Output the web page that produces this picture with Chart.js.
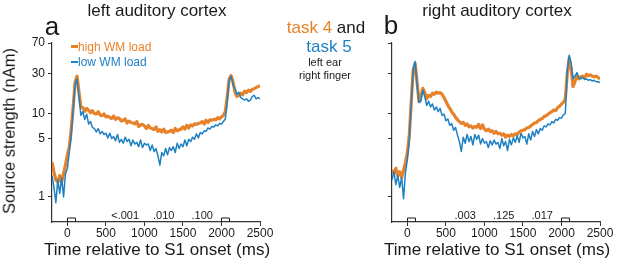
<!DOCTYPE html>
<html>
<head>
<meta charset="utf-8">
<script src="https://cdn.jsdelivr.net/npm/chart.js@4"></script>
<style>
    body { margin: 0; background: #fff; font-family: "Liberation Sans", Arial, sans-serif; color: #1a1a1a; }
    #Wrap { position: relative; width: 617px; height: 261px; overflow: hidden; }
    canvas { position: absolute; top: 0; }
    .Txt { position: absolute; white-space: nowrap; transform: translate(-50%, -50%); line-height: 1; }
    .Lft { position: absolute; white-space: nowrap; transform: translateY(-50%); line-height: 1; }
</style>
</head>
<body>
<div id="Wrap">
    <canvas id="ChartLeft" width="300" height="261" style="left:0px"></canvas>
    <canvas id="ChartRight" width="317" height="261" style="left:300px"></canvas>

    <div class="Txt" style="left:157px; top:10px; font-size:17px;">left auditory cortex</div>
    <div class="Txt" style="left:497px; top:10px; font-size:17px;">right auditory cortex</div>
    <div class="Txt" style="left:52px; top:26px; font-size:26px;">a</div>
    <div class="Txt" style="left:391px; top:25px; font-size:26px;">b</div>

    <div class="Txt" style="left:326px; top:27px; font-size:17px;"><span style="color:#E8822A">task 4</span> and</div>
    <div class="Txt" style="left:329px; top:46px; font-size:17px; color:#1F80C2;">task 5</div>
    <div class="Txt" style="left:325px; top:62px; font-size:11px;">left ear</div>
    <div class="Txt" style="left:325px; top:75px; font-size:11px;">right finger</div>

    <div style="position:absolute; left:71px; top:45px; width:7px; height:3px; background:#E8822A;"></div>
    <div class="Lft" style="left:78px; top:47px; font-size:12px; color:#E8822A;">high WM load</div>
    <div style="position:absolute; left:71px; top:61px; width:7px; height:1.5px; background:#1F80C2;"></div>
    <div class="Lft" style="left:78px; top:62px; font-size:12px; color:#1F80C2;">low WM load</div>

    <div class="Txt" style="left:9px; top:131px; font-size:16.5px; transform:translate(-50%,-50%) rotate(-90deg);">Source strength (nAm)</div>
    <div class="Txt" style="left:157px; top:249px; font-size:17px;">Time relative to S1 onset (ms)</div>
    <div class="Txt" style="left:497px; top:249px; font-size:17px;">Time relative to S1 onset (ms)</div>
</div>

<script>
// Time grid, ms (25 ms steps from -200 to 2500)
const times = Array.from({length: 109}, (_, i) => -200 + 25 * i);

const xTicks = [0, 500, 1000, 1500, 2000, 2500];
const yTicks = [1, 5, 10, 30, 70];

// p-values printed above the x axis, and where they sit (ms)
const pTimes        = [750, 1250, 1750];
const pLabelsLeft   = ['<.001', '.010', '.100'];
const pLabelsRight  = ['.003', '.125', '.017'];

// stimulus markers S1 and S2 (onset, ms)
const stimOnsets    = [0, 2000];
const stimLength    = 100;

// left auditory cortex, source strength (nAm)
const leftHigh = [
    2.6, 2.0, 1.6, 1.5, 1.8, 1.5, 1.9, 2.4, 3.2, 4.0,
    6.5, 12, 24, 28, 18, 12, 11.8, 10.6, 11.5, 10.9,
    10.2, 10.8, 10.0, 9.9, 10.5, 9.6, 9.4, 9.9, 9.1, 9.3,
    9.0, 8.7, 9.3, 8.5, 8.9, 8.7, 8.1, 8.3, 8.6, 7.7,
    8.1, 7.8, 7.7, 7.5, 8.0, 7.0, 7.3, 7.4, 7.1, 6.6,
    7.2, 6.7, 6.6, 6.4, 6.9, 6.1, 6.4, 6.0, 6.5, 5.9,
    6.0, 6.1, 6.3, 5.9, 6.6, 6.2, 6.4, 6.5, 6.9, 6.5,
    7.2, 6.7, 7.3, 7.1, 7.5, 7.4, 7.6, 7.7, 8.0, 7.5,
    8.3, 7.8, 8.4, 8.3, 8.5, 8.4, 8.9, 8.6, 9.1, 9.5,
    10.5, 16, 26, 28.5, 24, 18, 16, 16.5, 17.5, 16.8,
    18.5, 17.8, 19, 18.4, 19.5, 19.8, 20.5, 21, 21.5
];
const leftLow = [
    1.8, 1.3, 0.85, 1.6, 1.1, 1.7, 1.0, 1.9, 2.2, 3.5,
    5.5, 11, 22, 26, 16, 9.5, 10.5, 8.5, 9.8, 7.5,
    8.0, 6.8, 6.6, 6.0, 6.6, 5.7, 6.1, 5.6, 5.8, 5.1,
    5.8, 5.0, 5.3, 4.7, 5.6, 4.5, 4.9, 4.4, 5.2, 4.6,
    4.9, 4.1, 4.8, 4.3, 4.5, 4.0, 4.8, 3.9, 4.4, 4.2,
    4.3, 3.6, 4.2, 3.5, 3.8, 3.1, 2.4, 3.4, 3.1, 3.8,
    3.2, 3.9, 3.6, 4.0, 3.4, 4.4, 3.8, 4.3, 4.0, 4.8,
    4.1, 4.9, 4.6, 5.2, 4.9, 5.7, 5.1, 5.9, 5.7, 6.2,
    6.1, 6.7, 6.5, 7.0, 6.9, 7.3, 7.1, 7.6, 7.5, 8.0,
    8.6, 14, 25, 28, 22, 20, 17, 18, 15.5, 15,
    14.5, 15, 14, 14.5, 16, 16.5, 15, 15.5, 15
];

// right auditory cortex, source strength (nAm)
const rightHigh = [
    2.1, 1.9, 2.2, 1.8, 2.0, 1.7, 2.1, 2.6, 3.4, 5.5,
    14, 33, 40, 24, 14, 16, 20, 18, 15, 16.5,
    16, 17.5, 17, 18, 17.5, 17.8, 17, 15.5, 14, 12.5,
    11.5, 10.5, 9.8, 9.0, 8.4, 8.0, 7.6, 7.8, 7.2, 7.5,
    6.9, 7.1, 6.7, 7.0, 6.8, 7.4, 6.6, 7.3, 6.5, 6.2,
    6.5, 6.1, 6.2, 5.8, 6.1, 5.7, 5.8, 5.5, 5.7, 5.2,
    5.5, 5.3, 5.6, 5.4, 5.7, 5.6, 6.0, 6.2, 6.3, 6.4,
    6.7, 6.8, 7.1, 7.4, 7.7, 7.8, 8.2, 8.5, 8.7, 9.2,
    9.4, 9.8, 10.2, 10.5, 11.0, 10.8, 11.8, 12.2, 13.0, 13.6,
    15, 30, 46, 35, 21, 24, 28, 26, 27.5, 28,
    27, 29.5, 28.5, 29, 28, 27.5, 28, 27, 26
];
const rightLow = [
    1.6, 2.0, 1.4, 1.8, 1.3, 1.7, 0.95, 2.0, 2.8, 5.0,
    13, 34, 42, 22, 13.5, 14, 19, 16, 12.5, 14,
    12, 13, 11, 12, 10.5, 11.5, 9.5, 9.8, 8.2, 8.6,
    7.2, 7.6, 6.3, 6.8, 5.5, 4.6, 3.5, 5.2, 4.4, 5.6,
    4.6, 5.3, 4.2, 5.6, 4.9, 5.5, 4.3, 5.0, 4.4, 4.6,
    3.9, 4.7, 4.2, 4.8, 4.3, 4.5, 3.8, 5.0, 4.1, 4.6,
    3.6, 4.9, 4.2, 5.1, 4.5, 5.4, 4.5, 5.8, 5.1, 5.3,
    4.3, 5.7, 4.8, 6.1, 5.3, 6.4, 5.7, 6.6, 6.3, 7.1,
    6.9, 7.5, 7.3, 8.0, 7.7, 8.5, 8.3, 8.9, 8.8, 9.6,
    10, 32, 50, 40, 26, 28, 31, 27, 26, 27,
    25.5, 26, 25, 25.5, 24.5, 25, 24, 24, 23.5
];

const ORANGE = '#E8822A';
const BLUE   = '#1F80C2';

Initialize();

function Initialize()
{
    MakePanel('ChartLeft',  leftHigh,  leftLow,  pLabelsLeft,  true,  52, 40);
    MakePanel('ChartRight', rightHigh, rightLow, pLabelsRight, false, 92, 17);
}

function MakePanel(canvasId, highData, lowData, pLabels, showYLabels, yWidth, padRight)
{
    const ctx = document.getElementById(canvasId).getContext('2d');

    // p-values and the small stimulus boxes sitting on the x axis
    const markers =
    {
        id: 'markers',
        afterDatasetsDraw(chart)
        {
            const x = chart.scales.x;
            const c = chart.ctx;
            const base = chart.chartArea.bottom;
            c.save();
            c.fillStyle     = '#1a1a1a';
            c.font          = '11px "Liberation Sans", Arial, sans-serif';
            c.textAlign     = 'center';
            c.textBaseline  = 'middle';
            pTimes.forEach((t, i) => c.fillText(pLabels[i], x.getPixelForValue(t), base - 6));

            c.strokeStyle = '#1a1a1a';
            c.lineWidth   = 1;
            stimOnsets.forEach(t =>
            {
                const x0 = Math.round(x.getPixelForValue(t)) + 0.5;
                const x1 = Math.round(x.getPixelForValue(t + stimLength)) + 0.5;
                c.beginPath();
                c.moveTo(x0, base);
                c.lineTo(x0, base - 4);
                c.lineTo(x1, base - 4);
                c.lineTo(x1, base);
                c.stroke();
            });
            c.restore();
        }
    };

    new Chart(ctx,
    {
        type: 'line',
        data:
        {
            datasets:
            [
                {
                    label: 'low WM load',
                    data: times.map((t, i) => ({x: t, y: lowData[i]})),
                    borderColor: BLUE,
                    borderWidth: 1.5,
                    borderJoinStyle: 'round',
                    pointRadius: 0,
                    order: 0
                },
                {
                    label: 'high WM load',
                    data: times.map((t, i) => ({x: t, y: highData[i]})),
                    borderColor: ORANGE,
                    borderWidth: 3.2,
                    borderJoinStyle: 'round',
                    pointRadius: 0,
                    order: 1
                }
            ]
        },
        options:
        {
            responsive: false,
            animation: false,
            devicePixelRatio: 1,
            layout: { padding: { left: 0, top: 43, right: padRight, bottom: 0 } },
            plugins: { legend: { display: false }, tooltip: { enabled: false } },
            scales:
            {
                x:
                {
                    type: 'linear',
                    min: -200,
                    max: 2500,
                    afterBuildTicks: scale => { scale.ticks = xTicks.map(v => ({value: v})); },
                    afterFit: scale => { scale.height = 39; },
                    grid: { drawOnChartArea: false, drawTicks: true, tickLength: 4, color: '#333' },
                    border: { display: true, color: '#333', width: 1.2 },
                    ticks:
                    {
                        color: '#1a1a1a',
                        padding: 0,
                        maxRotation: 0,
                        font: { family: '"Liberation Sans", Arial, sans-serif', size: 12 },
                        callback: v => String(v)
                    }
                },
                y:
                {
                    type: 'logarithmic',
                    min: 0.5,
                    max: 70,
                    afterBuildTicks: scale => { scale.ticks = yTicks.map(v => ({value: v})); },
                    afterFit: scale => { scale.width = yWidth; },
                    grid: { drawOnChartArea: false, drawTicks: true, tickLength: 4, color: '#333' },
                    border: { display: true, color: '#333', width: 1.2 },
                    ticks:
                    {
                        display: showYLabels,
                        color: '#1a1a1a',
                        padding: 3,
                        font: { family: '"Liberation Sans", Arial, sans-serif', size: 12 },
                        callback: v => String(v)
                    }
                }
            }
        },
        plugins: [markers]
    });
}
</script>
</body>
</html>
